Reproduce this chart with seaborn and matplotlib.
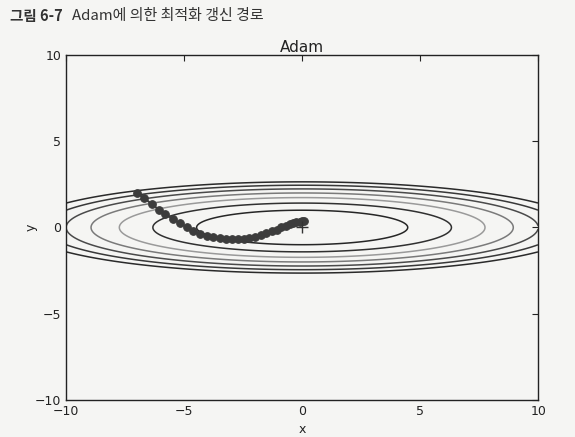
import numpy as np
import matplotlib
matplotlib.use('Agg')
import matplotlib.pyplot as plt
import seaborn as sns

# Adam update path (starts at (-7, 2))
path_x = [-6.99, -6.68, -6.37, -6.08, -5.79, -5.49, -5.18, -4.88, -4.61, -4.32,
          -4.04, -3.76, -3.49, -3.24, -2.98, -2.73, -2.48, -2.24, -2.00, -1.76,
          -1.52, -1.29, -1.08, -0.89, -0.70, -0.53, -0.38, -0.24, -0.11, 0.00, 0.07]
path_y = [1.98, 1.69, 1.35, 1.04, 0.76, 0.51, 0.24, 0.02, -0.22, -0.37,
          -0.49, -0.57, -0.63, -0.67, -0.69, -0.69, -0.67, -0.61, -0.53, -0.43,
          -0.33, -0.22, -0.12, 0.00, 0.10, 0.18, 0.24, 0.29, 0.33, 0.35, 0.37]

origin_x = [0]
origin_y = [0]

# contour levels of f(x, y) = x^2/20 + y^2 and their printed grey
levels = [1, 2, 3, 4, 5, 6, 7]
level_colors = ['#262626', '#303030', '#9a9a9a', '#7a7a7a', '#4a4a4a', '#383838', '#2a2a2a']

ticks = [-10, -5, 0, 5, 10]
bg = '#f5f5f3'


def f(x, y):
    return x**2 / 20.0 + y**2


def main():
    sns.set_style('white', {'axes.facecolor': bg, 'figure.facecolor': bg,
                            'axes.edgecolor': 'black'})
    plt.rcParams['font.family'] = ['DejaVu Sans']

    fig = plt.figure(figsize=(5.75, 4.37), dpi=100)
    ax = fig.add_axes([0.115, 0.085, 0.821, 0.789])

    gx = np.arange(-10, 10, 0.01)
    gy = np.arange(-5, 5, 0.01)
    X, Y = np.meshgrid(gx, gy)
    Z = f(X, Y)
    ax.contour(X, Y, Z, levels=levels, colors=level_colors, linewidths=1.1)

    sns.lineplot(x=path_x, y=path_y, sort=False, ax=ax, color='#3c3c3c',
                 marker='o', markersize=5.5, markeredgecolor='#3c3c3c',
                 linewidth=1.5, estimator=None)
    ax.plot(origin_x, origin_y, '+', color='#333333', markersize=8, mew=1.0)

    ax.set_xlim(-10, 10)
    ax.set_ylim(-10, 10)
    ax.set_xticks(ticks)
    ax.set_yticks(ticks)
    ax.tick_params(direction='in', top=True, right=True, length=4,
                   labelsize=9, colors='#222222')
    for s in ax.spines.values():
        s.set_linewidth(1.0)
        s.set_color('#222222')
    ax.set_title('Adam', fontsize=11, pad=2, color='#222222')
    ax.set_xlabel('x', fontsize=9, labelpad=4, color='#222222')
    ax.set_ylabel('y', fontsize=9, labelpad=-2, color='#222222')

    fig.text(0.017, 0.963, '그림 6-7', fontsize=10.5, fontweight='bold',
             family=['Noto Sans CJK KR', 'DejaVu Sans'], color='#333333', va='center')
    fig.text(0.125, 0.963, 'Adam에 의한 최적화 갱신 경로', fontsize=10.8,
             family=['Noto Sans CJK KR', 'DejaVu Sans'], color='#333333', va='center')

    fig.savefig('out.png', dpi=100, facecolor=bg)


if __name__ == '__main__':
    main()
